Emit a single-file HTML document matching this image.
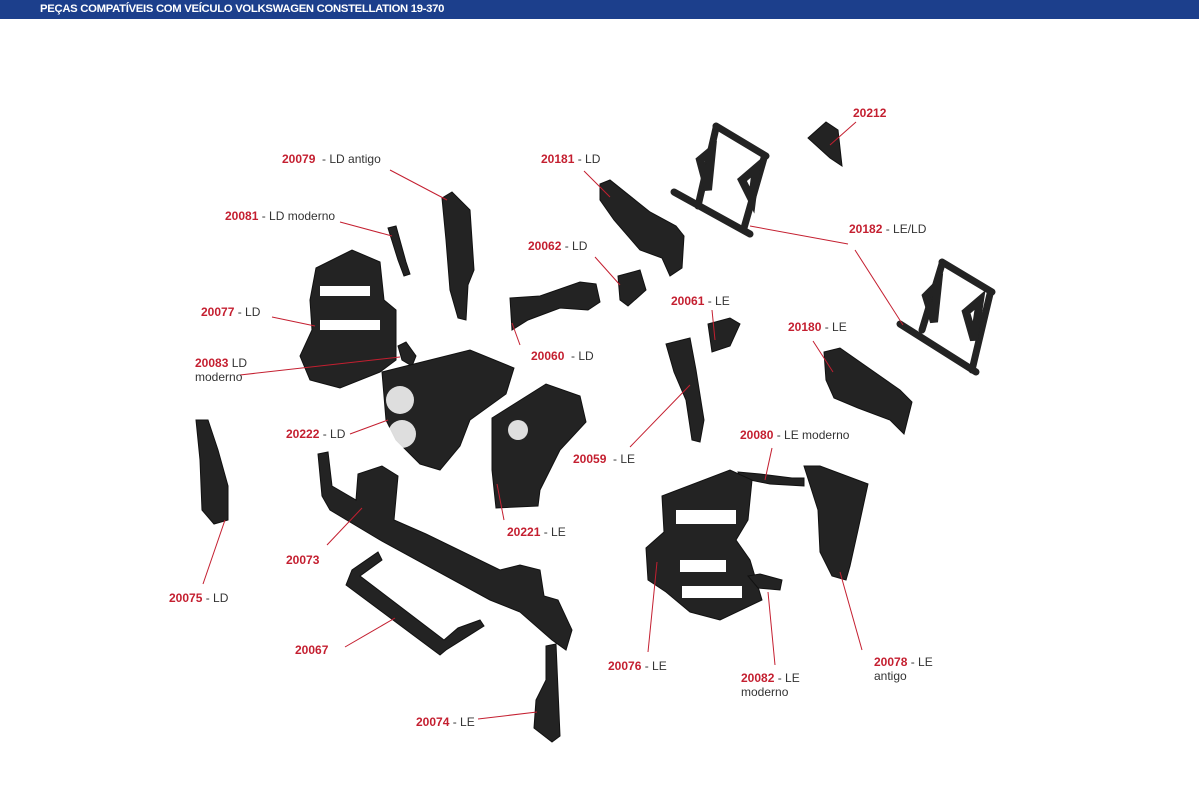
<!DOCTYPE html>
<html><head><meta charset="utf-8"><style>
body{margin:0;width:1199px;height:799px;background:#fff;position:relative;overflow:hidden;font-family:"Liberation Sans",sans-serif}
.hd{position:absolute;left:0;top:0;width:1199px;height:19px;background:#1c3f8c;color:#fff;font-weight:bold;font-size:11.3px;line-height:19px;padding-left:40px;box-sizing:border-box;letter-spacing:-0.3px}
.l{position:absolute;font-size:12px;color:#333;white-space:nowrap;line-height:14px}
.l b{color:#c41f30}
svg{position:absolute;left:0;top:0}
</style></head><body>
<div class="hd">PEÇAS COMPATÍVEIS COM VEÍCULO VOLKSWAGEN CONSTELLATION 19-370</div>
<svg width="1199" height="799">
<g fill="#232323" stroke="#111" stroke-width="1">
<polygon points="442,198 452,192 470,210 474,270 468,285 466,320 458,318 450,290 446,240"/>
<polygon points="388,228 396,226 406,262 410,274 404,276 398,260"/>
<polygon points="316,268 352,250 380,262 384,300 396,310 396,360 380,372 340,388 310,380 300,356 312,330 310,300"/>
<polygon points="398,346 406,342 416,356 412,366 402,360"/>
<polygon points="382,372 470,350 514,368 506,394 470,420 460,446 440,470 420,464 396,440 386,420"/>
<polygon points="196,420 208,420 218,450 228,486 228,520 214,524 202,510 200,460"/>
<polygon points="318,454 328,452 332,486 356,500 358,474 382,466 398,476 394,520 426,534 500,570 520,565 540,570 544,596 558,600 572,630 566,650 552,640 520,612 490,600 380,540 330,510 322,496"/>
<polygon points="346,585 352,570 378,552 382,560 360,576 444,640 458,628 480,620 484,626 446,650 440,655"/>
<polygon points="546,646 556,644 558,690 560,736 552,742 534,728 536,700 546,680"/>
<polygon points="510,298 540,296 580,282 596,284 600,302 588,310 560,308 528,320 512,330"/>
<polygon points="618,276 640,270 646,290 628,306 620,300"/>
<polygon points="600,184 610,180 650,212 676,226 684,236 682,268 670,276 662,258 640,250 614,220 600,200"/>
<polygon points="492,418 546,384 580,396 586,422 560,450 540,490 538,506 496,508 492,470"/>
<polygon points="708,324 730,318 740,324 730,346 712,352"/>
<polygon points="666,344 690,338 696,370 704,420 700,442 692,440 686,400 674,372"/>
<polygon points="808,138 826,122 838,130 842,166 830,158"/>
<polygon points="824,352 840,348 900,390 912,402 904,434 890,420 858,408 834,398 826,380"/>
<polygon points="738,472 760,474 792,478 804,478 804,486 770,484 740,478"/>
<polygon points="662,496 730,470 752,480 748,520 736,540 750,560 762,600 720,620 690,612 666,592 648,580 646,548 664,532"/>
<polygon points="748,576 760,574 782,580 780,590 758,588"/>
<polygon points="804,466 820,466 868,484 858,530 850,566 846,580 832,576 820,552 818,510"/>
</g>
<g stroke="#232323" stroke-width="7" fill="none" stroke-linecap="round">
<line x1="674" y1="192" x2="750" y2="234"/>
<line x1="716" y1="126" x2="766" y2="156"/>
<line x1="716" y1="128" x2="698" y2="206"/>
<line x1="764" y1="158" x2="744" y2="228"/>
<path d="M700,160 L712,150 L708,190 Z M742,180 L756,168 L752,200 Z" stroke-width="8"/>
<line x1="900" y1="324" x2="976" y2="372"/>
<line x1="942" y1="262" x2="992" y2="292"/>
<line x1="942" y1="264" x2="922" y2="330"/>
<line x1="990" y1="294" x2="972" y2="370"/>
<path d="M926,296 L938,284 L934,322 Z M966,312 L980,300 L974,340 Z" stroke-width="8"/>
</g>
<g fill="#fff">
<rect x="320" y="286" width="50" height="10"/><rect x="320" y="320" width="60" height="10"/>
<rect x="676" y="510" width="60" height="14"/><rect x="680" y="560" width="46" height="12"/>
<rect x="682" y="586" width="60" height="12"/>
</g>
<g fill="#fff" opacity="0.85">
<circle cx="400" cy="400" r="14"/><circle cx="402" cy="434" r="14"/>
<circle cx="518" cy="430" r="10"/>
</g>
<g stroke="#c41f30" stroke-width="1" fill="none">
<line x1="390" y1="170" x2="447" y2="200"/>
<line x1="340" y1="222" x2="392" y2="236"/>
<line x1="272" y1="317" x2="315" y2="326"/>
<line x1="240" y1="375" x2="400" y2="357"/>
<line x1="350" y1="434" x2="388" y2="420"/>
<line x1="327" y1="545" x2="362" y2="508"/>
<line x1="203" y1="584" x2="225" y2="520"/>
<line x1="345" y1="647" x2="395" y2="618"/>
<line x1="478" y1="719" x2="537" y2="712"/>
<line x1="584" y1="171" x2="610" y2="197"/>
<line x1="595" y1="257" x2="620" y2="285"/>
<line x1="520" y1="345" x2="512" y2="323"/>
<line x1="712" y1="310" x2="715" y2="340"/>
<line x1="630" y1="447" x2="690" y2="385"/>
<line x1="504" y1="520" x2="497" y2="484"/>
<line x1="856" y1="122" x2="830" y2="145"/>
<line x1="848" y1="244" x2="750" y2="226"/>
<line x1="855" y1="250" x2="903" y2="325"/>
<line x1="813" y1="341" x2="833" y2="372"/>
<line x1="772" y1="448" x2="765" y2="480"/>
<line x1="648" y1="652" x2="657" y2="562"/>
<line x1="775" y1="665" x2="768" y2="592"/>
<line x1="862" y1="650" x2="840" y2="572"/>
</g>
</svg>
<div class="l" style="left:282px;top:152px"><b>20079</b>&nbsp; - LD antigo</div>
<div class="l" style="left:225px;top:209px"><b>20081</b> - LD moderno</div>
<div class="l" style="left:201px;top:305px"><b>20077</b> - LD</div>
<div class="l" style="left:195px;top:356px"><b>20083</b> LD<br>moderno</div>
<div class="l" style="left:286px;top:427px"><b>20222</b> - LD</div>
<div class="l" style="left:286px;top:553px"><b>20073</b></div>
<div class="l" style="left:169px;top:591px"><b>20075</b> - LD</div>
<div class="l" style="left:295px;top:643px"><b>20067</b></div>
<div class="l" style="left:416px;top:715px"><b>20074</b> - LE</div>
<div class="l" style="left:541px;top:152px"><b>20181</b> - LD</div>
<div class="l" style="left:528px;top:239px"><b>20062</b> - LD</div>
<div class="l" style="left:531px;top:349px"><b>20060</b>&nbsp; - LD</div>
<div class="l" style="left:671px;top:294px"><b>20061</b> - LE</div>
<div class="l" style="left:573px;top:452px"><b>20059</b>&nbsp; - LE</div>
<div class="l" style="left:507px;top:525px"><b>20221</b> - LE</div>
<div class="l" style="left:853px;top:106px"><b>20212</b></div>
<div class="l" style="left:849px;top:222px"><b>20182</b> - LE/LD</div>
<div class="l" style="left:788px;top:320px"><b>20180</b> - LE</div>
<div class="l" style="left:740px;top:428px"><b>20080</b> - LE moderno</div>
<div class="l" style="left:608px;top:659px"><b>20076</b> - LE</div>
<div class="l" style="left:741px;top:671px"><b>20082</b> - LE<br>moderno</div>
<div class="l" style="left:874px;top:655px"><b>20078</b> - LE<br>antigo</div>
</body></html>
